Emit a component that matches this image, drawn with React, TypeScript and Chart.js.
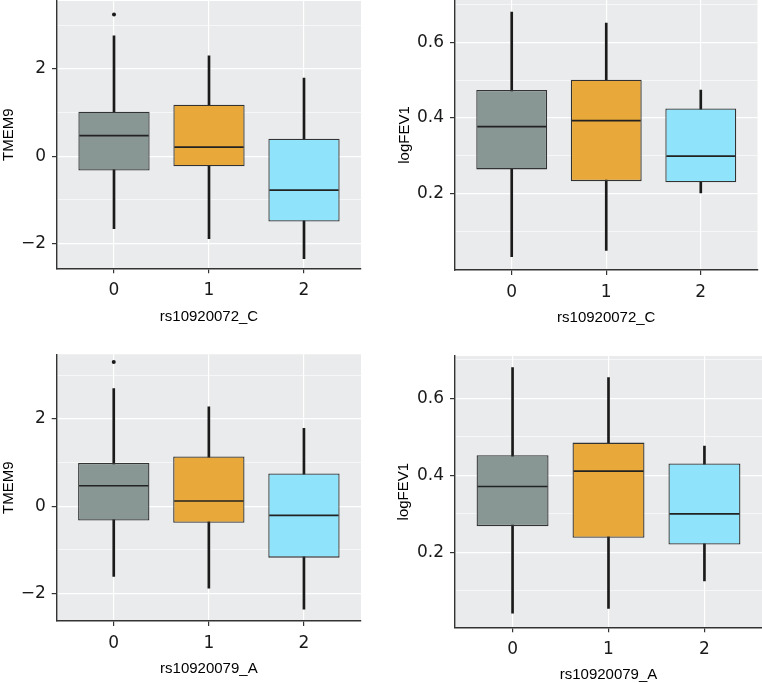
import React, { useEffect, useRef } from "react";
import { Chart, registerables } from "chart.js";

Chart.register(...registerables);

// ---------- data ----------
const categories = ["0", "1", "2"];

// Panel A: TMEM9 by rs10920072_C
const aMin = [-1.66, -1.89, -2.35];
const aQ1 = [-0.33, -0.23, -1.5];
const aMed = [0.47, 0.21, -0.78];
const aQ3 = [1.02, 1.18, 0.4];
const aMax = [2.76, 2.3, 1.79];
const aOutGroup = [0];
const aOutValue = [3.25];

// Panel B: logFEV1 by rs10920072_C
const bMin = [0.033, 0.05, 0.202];
const bQ1 = [0.264, 0.233, 0.23];
const bMed = [0.377, 0.393, 0.299];
const bQ3 = [0.474, 0.501, 0.425];
const bMax = [0.68, 0.651, 0.474];
const bOutGroup: number[] = [];
const bOutValue: number[] = [];

// Panel C: TMEM9 by rs10920079_A
const cMin = [-1.61, -1.88, -2.36];
const cQ1 = [-0.33, -0.38, -1.18];
const cMed = [0.47, 0.12, -0.21];
const cQ3 = [0.99, 1.14, 0.75];
const cMax = [2.7, 2.28, 1.79];
const cOutGroup = [0];
const cOutValue = [3.31];

// Panel D: logFEV1 by rs10920079_A
const dMin = [0.042, 0.054, 0.126];
const dQ1 = [0.268, 0.238, 0.22];
const dMed = [0.371, 0.411, 0.3];
const dQ3 = [0.452, 0.485, 0.431];
const dMax = [0.68, 0.654, 0.476];
const dOutGroup: number[] = [];
const dOutValue: number[] = [];

// tick values / labels
const tmemTicks = [-2, 0, 2];
const tmemTickLabels = ["\u22122", "0", "2"];
const tmemMinor = [-1, 1, 3];
const fevTicks = [0.2, 0.4, 0.6];
const fevTickLabels = ["0.2", "0.4", "0.6"];
const fevMinor = [0.1, 0.3, 0.5, 0.7];

// ---------- styles ----------
const fillColors = ["#889694", "#E8A83A", "#8FE4FC"];
const panelBgColor = "#E9EBEC";
const axisColor = "#333333";
const tickFont = { family: "'DejaVu Sans', sans-serif", size: 17 };
const titleFont = { family: "'Liberation Sans', Arial, sans-serif", size: 15, lineHeight: 1.2 };

const panelBg = {
  id: "panelBg",
  beforeDraw(chart: any, _args: any, opts: any) {
    const { ctx, chartArea: a } = chart;
    ctx.save();
    ctx.fillStyle = opts.color;
    ctx.fillRect(a.left, a.top, a.right - a.left, a.bottom - a.top);
    ctx.restore();
  },
};

const medianLines = {
  id: "medianLines",
  afterDatasetsDraw(chart: any, _args: any, opts: any) {
    const meds: number[] = opts.values;
    if (!meds) return;
    const meta = chart.getDatasetMeta(opts.datasetIndex);
    const y = chart.scales.y;
    const ctx = chart.ctx;
    ctx.save();
    ctx.strokeStyle = opts.color;
    ctx.lineWidth = opts.width;
    meta.data.forEach((bar: any, i: number) => {
      const { x, width } = bar.getProps(["x", "width"], true);
      const py = y.getPixelForValue(meds[i]);
      ctx.beginPath();
      ctx.moveTo(x - width / 2 + 1, py);
      ctx.lineTo(x + width / 2 - 1, py);
      ctx.stroke();
    });
    ctx.restore();
  },
};

type PanelDef = {
  min: number[]; q1: number[]; med: number[]; q3: number[]; max: number[];
  outGroup: number[]; outValue: number[];
  yMajor: number[]; yLabels: string[]; yMinor: number[];
  yMinV: number; yMaxV: number;
  yTitle: string; xTitle: string;
  canvasX: number;
  area: { l: number; t: number; r: number; b: number };
  xTitleY: number; yTitleX: number;
};

const panels: PanelDef[] = [
  {
    min: aMin, q1: aQ1, med: aMed, q3: aQ3, max: aMax, outGroup: aOutGroup, outValue: aOutValue,
    yMajor: tmemTicks, yLabels: tmemTickLabels, yMinor: tmemMinor, yMinV: -2.572, yMaxV: 3.56,
    yTitle: "TMEM9", xTitle: "rs10920072_C",
    canvasX: 0, area: { l: 57, t: 1, r: 361, b: 268.3 }, xTitleY: 317.3, yTitleX: 9,
  },
  {
    min: bMin, q1: bQ1, med: bMed, q3: bQ3, max: bMax, outGroup: bOutGroup, outValue: bOutValue,
    yMajor: fevTicks, yLabels: fevTickLabels, yMinor: fevMinor, yMinV: -0.002, yMaxV: 0.712,
    yTitle: "logFEV1", xTitle: "rs10920072_C",
    canvasX: 381, area: { l: 455, t: 0, r: 757.5, b: 270 }, xTitleY: 318, yTitleX: 405,
  },
  {
    min: cMin, q1: cQ1, med: cMed, q3: cQ3, max: cMax, outGroup: cOutGroup, outValue: cOutValue,
    yMajor: tmemTicks, yLabels: tmemTickLabels, yMinor: tmemMinor, yMinV: -2.634, yMaxV: 3.486,
    yTitle: "TMEM9", xTitle: "rs10920079_A",
    canvasX: 0, area: { l: 56.7, t: 354.3, r: 361, b: 621 }, xTitleY: 669, yTitleX: 9,
  },
  {
    min: dMin, q1: dQ1, med: dMed, q3: dQ3, max: dMax, outGroup: dOutGroup, outValue: dOutValue,
    yMajor: fevTicks, yLabels: fevTickLabels, yMinor: fevMinor, yMinV: 0.0052, yMaxV: 0.71,
    yTitle: "logFEV1", xTitle: "rs10920079_A",
    canvasX: 381, area: { l: 455, t: 356, r: 762, b: 627.3 }, xTitleY: 675, yTitleX: 404,
  },
];

function layoutFor(p: PanelDef) {
  const cx = p.canvasX;
  const cy = Math.floor(p.area.t) - 20;
  const half = (titleFont.size * titleFont.lineHeight) / 2;
  const scaleBottom = p.xTitleY + half;
  const ch = Math.ceil(scaleBottom) + 2 - cy;
  const cw = 381;
  return {
    cx, cy, cw, ch,
    padding: { left: 0, top: p.area.t - cy, right: cx + cw - p.area.r, bottom: cy + ch - scaleBottom },
    yWidth: p.area.l - cx,
    xHeight: scaleBottom - p.area.b,
    yTitlePad: p.yTitleX - cx - half,
  };
}

function Panel({ p }: { p: PanelDef }) {
  const ref = useRef<HTMLCanvasElement>(null);
  const L = layoutFor(p);

  useEffect(() => {
    if (!ref.current) return;
    const idx = categories.map((_, i) => i);
    const allTicks = [...p.yMajor, ...p.yMinor].sort((a, b) => a - b);
    const isMajor = (v: number) => p.yMajor.indexOf(v) >= 0;

    const chart = new Chart(ref.current, {
      type: "bar",
      data: {
        datasets: [
          {
            type: "bar",
            label: "whisker",
            data: idx.map((i) => ({ x: i, y: [p.min[i], p.max[i]] })) as any,
            backgroundColor: "#1a1a1a",
            borderWidth: 0,
            barThickness: 2,
            grouped: false,
            order: 3,
          } as any,
          {
            type: "bar",
            label: "box",
            data: idx.map((i) => ({ x: i, y: [p.q1[i], p.q3[i]] })) as any,
            backgroundColor: fillColors,
            borderColor: axisColor,
            borderWidth: 1.3,
            borderSkipped: false,
            barPercentage: 0.75,
            categoryPercentage: 1,
            grouped: false,
            order: 2,
          } as any,
          {
            type: "scatter",
            label: "outlier",
            data: p.outGroup.map((g, k) => ({ x: g, y: p.outValue[k] })),
            pointRadius: 2,
            pointBackgroundColor: "#1a1a1a",
            pointBorderWidth: 0,
            order: 1,
          } as any,
        ],
      },
      options: {
        responsive: false,
        animation: false,
        events: [],
        layout: { padding: L.padding },
        plugins: {
          legend: { display: false },
          tooltip: { enabled: false },
          panelBg: { color: panelBgColor },
          medianLines: { values: p.med, datasetIndex: 1, color: "#222222", width: 1.7 },
        } as any,
        scales: {
          x: {
            type: "linear",
            min: -0.6,
            max: 2.6,
            bounds: "data",
            offset: false,
            afterBuildTicks: (s: any) => {
              s.ticks = idx.map((v) => ({ value: v }));
            },
            afterFit: (s: any) => {
              s.height = L.xHeight;
              s.paddingLeft = 0;
              s.paddingRight = 0;
            },
            ticks: {
              callback: (v: any) => categories[v] ?? "",
              font: tickFont,
              color: "#1a1a1a",
              padding: 7,
              autoSkip: false,
              maxRotation: 0,
            },
            grid: {
              offset: false,
              color: "#ffffff",
              lineWidth: 1.2,
              tickLength: 5,
              tickColor: axisColor,
              tickWidth: 1.2,
            },
            border: { display: true, color: axisColor, width: 1.4 },
            title: {
              display: true,
              text: p.xTitle,
              font: titleFont,
              color: "#000000",
              padding: { top: 0, bottom: 0 },
            },
          } as any,
          y: {
            type: "linear",
            min: p.yMinV,
            max: p.yMaxV,
            bounds: "data",
            afterBuildTicks: (s: any) => {
              s.ticks = allTicks.map((v) => ({ value: v }));
            },
            afterFit: (s: any) => {
              s.width = L.yWidth;
              s.paddingTop = 0;
              s.paddingBottom = 0;
            },
            ticks: {
              callback: (v: any) => {
                const i = p.yMajor.indexOf(v);
                return i >= 0 ? p.yLabels[i] : "";
              },
              font: tickFont,
              color: "#1a1a1a",
              padding: 6,
              autoSkip: false,
            },
            grid: {
              color: "#ffffff",
              lineWidth: (c: any) => (c.tick && isMajor(c.tick.value) ? 1.2 : 0.6),
              tickLength: 5,
              tickColor: (c: any) => (c.tick && isMajor(c.tick.value) ? axisColor : "rgba(0,0,0,0)"),
              tickWidth: 1.2,
            },
            border: { display: true, color: axisColor, width: 1.4 },
            title: {
              display: true,
              text: p.yTitle,
              font: titleFont,
              color: "#000000",
              padding: { top: L.yTitlePad, bottom: 0 },
            },
          } as any,
        },
      },
      plugins: [panelBg, medianLines],
    });
    return () => chart.destroy();
  }, []);

  return (
    <canvas
      ref={ref}
      width={L.cw}
      height={L.ch}
      style={{ position: "absolute", left: L.cx, top: L.cy, width: L.cw, height: L.ch }}
    />
  );
}

export default function App() {
  return (
    <div
      style={{
        position: "absolute",
        left: 0,
        top: 0,
        width: 762,
        height: 684,
        overflow: "hidden",
        background: "#ffffff",
      }}
    >
      {panels.map((p, i) => (
        <Panel key={i} p={p} />
      ))}
    </div>
  );
}
